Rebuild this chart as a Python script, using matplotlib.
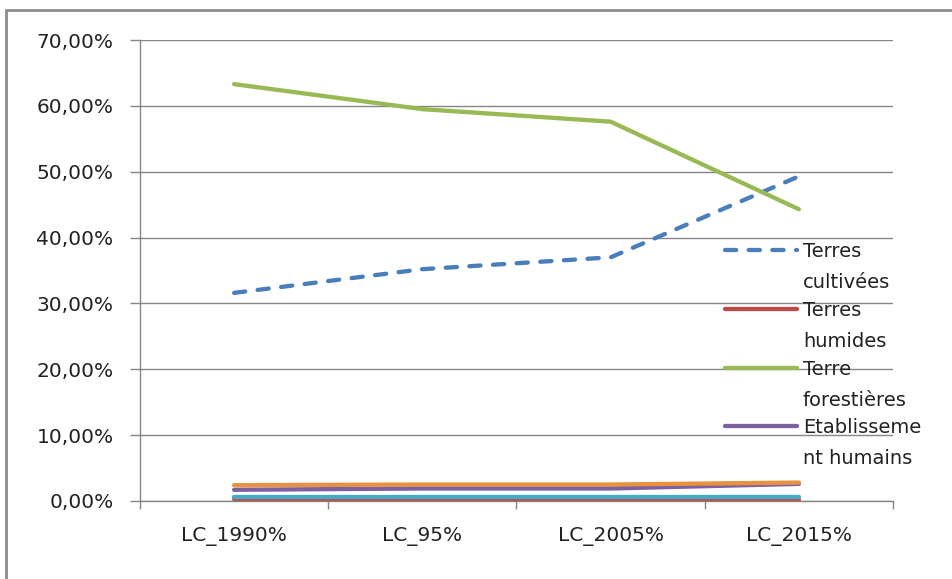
import matplotlib

matplotlib.use("Agg")
import matplotlib.pyplot as plt
from matplotlib.legend_handler import HandlerLine2D
from matplotlib.patches import Rectangle
from matplotlib.ticker import FuncFormatter, MultipleLocator

periods = ["LC_1990%", "LC_95%", "LC_2005%", "LC_2015%"]

terres_cultivees = [31.6, 35.2, 37.0, 49.3]
terres_humides = [0.3, 0.3, 0.3, 0.2]
terre_forestieres = [63.3, 59.5, 57.6, 44.3]
etablissements = [1.7, 1.9, 1.9, 2.6]
prairies = [0.6, 0.6, 0.6, 0.6]
autres_terres = [2.4, 2.5, 2.5, 2.8]

series = [
    ("Terres\ncultivées", terres_cultivees, "#4a7ebb", "--"),
    ("Terres\nhumides", terres_humides, "#be4b48", "-"),
    ("Terre\nforestières", terre_forestieres, "#98b954", "-"),
    ("Etablisseme\nnt humains", etablissements, "#7d60a0", "-"),
    ("Prairies", prairies, "#46aac5", "-"),
    ("Autres terres", autres_terres, "#e8913f", "-"),
]
legend_count = 4
label_linespacing = 1.8


class FirstLineHandler(HandlerLine2D):
    """Put the legend sample level with the first line of a wrapped label."""

    def create_artists(self, legend, orig_handle, xdescent, ydescent,
                       width, height, fontsize, trans):
        lift = label_linespacing * fontsize * 1.0
        return super().create_artists(legend, orig_handle, xdescent,
                                      ydescent - lift, width, height,
                                      fontsize, trans)


plt.rcParams["font.family"] = ["DejaVu Sans"]
fig = plt.figure(figsize=(9.53, 5.79), dpi=100)
ax = fig.add_axes([140 / 953, 78 / 579, 753 / 953, 461 / 579])

x = list(range(len(periods)))
handles = []
for label, values, color, style in series:
    (ln,) = ax.plot(x, values, color=color, linewidth=3.1, linestyle=style,
                    solid_capstyle="round", dash_capstyle="round",
                    label=label, zorder=3)
    if style == "--":
        ln.set_dashes((2.6, 2.9))
    handles.append(ln)

ax.set_xlim(-0.5, len(periods) - 0.5)
ax.set_ylim(0, 70)
ax.yaxis.set_major_locator(MultipleLocator(10))
ax.yaxis.set_major_formatter(
    FuncFormatter(lambda v, _: f"{v:.2f}%".replace(".", ","))
)
ax.grid(True, axis="y", color="#868686", linewidth=1.0, zorder=0)

# category labels sit between the boundary tick marks
ax.set_xticks([i - 0.5 for i in range(len(periods) + 1)])
ax.set_xticklabels([])
ax.set_xticks(x, minor=True)
ax.set_xticklabels(periods, minor=True)
ax.tick_params(axis="x", which="major", length=6, width=1, color="#868686")
ax.tick_params(axis="x", which="minor", length=0, pad=19, labelsize=14.5,
               labelcolor="#222222")
ax.tick_params(axis="y", length=7, width=1, color="#868686", pad=12,
               labelsize=14.5, labelcolor="#222222")

for side in ("top", "right"):
    ax.spines[side].set_visible(False)
for side in ("left", "bottom"):
    ax.spines[side].set_color("#868686")
    ax.spines[side].set_linewidth(1.0)

leg = ax.legend(
    handles=handles[:legend_count],
    loc="upper left",
    bbox_to_anchor=(725 / 953, 1 - 242 / 579),
    bbox_transform=fig.transFigure,
    frameon=False,
    fontsize=14,
    handlelength=3.7,
    handletextpad=0.3,
    borderpad=0,
    borderaxespad=0,
    labelspacing=0.45,
    handler_map={plt.Line2D: FirstLineHandler()},
)
for t in leg.get_texts():
    t.set_linespacing(label_linespacing)
    t.set_color("#222222")

fig.add_artist(Rectangle((6 / 953, -0.2), 1.2, 1.2 - 10 / 579,
                         transform=fig.transFigure, fill=False,
                         edgecolor="#8c8c8c", linewidth=2.0))

fig.savefig("out.png", dpi=100)
